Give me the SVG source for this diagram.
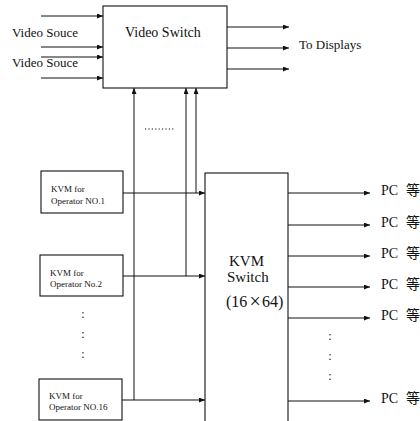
<svg xmlns="http://www.w3.org/2000/svg" width="420" height="421" viewBox="0 0 420 421">
<defs>
<marker id="ah" markerWidth="7" markerHeight="6" refX="6" refY="2.5" orient="auto" markerUnits="userSpaceOnUse">
<path d="M0,0 L6,2.5 L0,5 z" fill="#111"/>
</marker>
<style>
.box{fill:#fff;stroke:#111;stroke-width:1.1}
.ln{fill:none;stroke:#111;stroke-width:1}
.ar{fill:none;stroke:#111;stroke-width:1;marker-end:url(#ah)}
.t{font-family:"Liberation Serif","Times New Roman",serif;fill:#111}
.s{font-size:9px}
.m{font-size:13px}
.b{font-size:15px}
.pc{font-family:"Liberation Serif","Noto Sans CJK SC",serif;font-size:14px;fill:#111}
.cj{font-family:"Noto Sans CJK SC",sans-serif;font-size:14px;fill:#111}
</style>
</defs>
<rect width="420" height="421" fill="#fff"/>

<g id="connectors">
<line class="ar" x1="41" y1="16" x2="103" y2="16"/>
<line class="ar" x1="41" y1="47" x2="103" y2="47"/>
<line class="ar" x1="41" y1="57" x2="103" y2="57"/>
<line class="ar" x1="41" y1="78" x2="103" y2="78"/>
<line class="ar" x1="227" y1="27" x2="289" y2="27"/>
<line class="ar" x1="227" y1="48" x2="289" y2="48"/>
<line class="ar" x1="227" y1="69" x2="289" y2="69"/>
<line class="ar" x1="123" y1="193" x2="205" y2="193"/>
<line class="ar" x1="123" y1="276" x2="205" y2="276"/>
<line class="ar" x1="122" y1="400" x2="205" y2="400"/>
<line class="ar" x1="134" y1="400" x2="134" y2="88"/>
<line class="ar" x1="186" y1="276" x2="186" y2="88"/>
<line class="ar" x1="196" y1="193" x2="196" y2="88"/>
<line class="ln" x1="145" y1="129" x2="175" y2="129" stroke-dasharray="1.2,2.2"/>
<line class="ar" x1="288" y1="193" x2="370" y2="193"/>
<line class="ar" x1="288" y1="225" x2="370" y2="225"/>
<line class="ar" x1="288" y1="256" x2="370" y2="256"/>
<line class="ar" x1="288" y1="287" x2="370" y2="287"/>
<line class="ar" x1="288" y1="318" x2="370" y2="318"/>
<line class="ar" x1="288" y1="401" x2="370" y2="401"/>
</g>

<g id="video-sources">
<text class="t m" x="12" y="37">Video Souce</text>
<text class="t m" x="12" y="67">Video Souce</text>
</g>

<g id="video-switch">
<rect class="box" x="103" y="6" width="124" height="82"/>
<text class="t" style="font-size:14px" x="125" y="37">Video Switch</text>
</g>

<g id="to-displays">
<text class="t m" x="299" y="49">To Displays</text>
</g>

<g id="kvm-op1">
<rect class="box" x="41" y="171" width="82" height="42"/>
<text class="t s" x="51" y="192">KVM for</text>
<text class="t s" x="51" y="203.5">Operator NO.1</text>
</g>

<g id="kvm-op2">
<rect class="box" x="40" y="255" width="83" height="41"/>
<text class="t s" x="50" y="276">KVM for</text>
<text class="t s" x="50" y="287">Operator No.2</text>
</g>

<g id="kvm-dots">
<text class="t" style="font-size:12px" x="83" y="318" text-anchor="middle">:</text>
<text class="t" style="font-size:12px" x="83" y="338" text-anchor="middle">:</text>
<text class="t" style="font-size:12px" x="83" y="358" text-anchor="middle">:</text>
</g>

<g id="kvm-op16">
<rect class="box" x="39" y="379" width="83" height="41"/>
<text class="t s" x="49" y="399">KVM for</text>
<text class="t s" x="49" y="410">Operator NO.16</text>
</g>

<g id="kvm-switch">
<rect class="box" x="205" y="173" width="83" height="260"/>
<text class="t b" x="229" y="266">KVM</text>
<text class="t b" x="227" y="282">Switch</text>
<text class="t" style="font-size:16px" x="226" y="307">(16<tspan x="249.5" y="307.5" style="font-size:20px">×</tspan><tspan x="262" y="307">64)</tspan></text>
</g>

<g id="pcs">
<text class="pc" x="381" y="195">PC<tspan class="cj" x="406">等</tspan></text>
<text class="pc" x="381" y="227">PC<tspan class="cj" x="406">等</tspan></text>
<text class="pc" x="381" y="258">PC<tspan class="cj" x="406">等</tspan></text>
<text class="pc" x="381" y="289">PC<tspan class="cj" x="406">等</tspan></text>
<text class="pc" x="381" y="320">PC<tspan class="cj" x="406">等</tspan></text>
<text class="t" style="font-size:12px" x="330" y="340" text-anchor="middle">:</text>
<text class="t" style="font-size:12px" x="330" y="360" text-anchor="middle">:</text>
<text class="t" style="font-size:12px" x="330" y="380" text-anchor="middle">:</text>
<text class="pc" x="381" y="403">PC<tspan class="cj" x="406">等</tspan></text>
</g>
</svg>
